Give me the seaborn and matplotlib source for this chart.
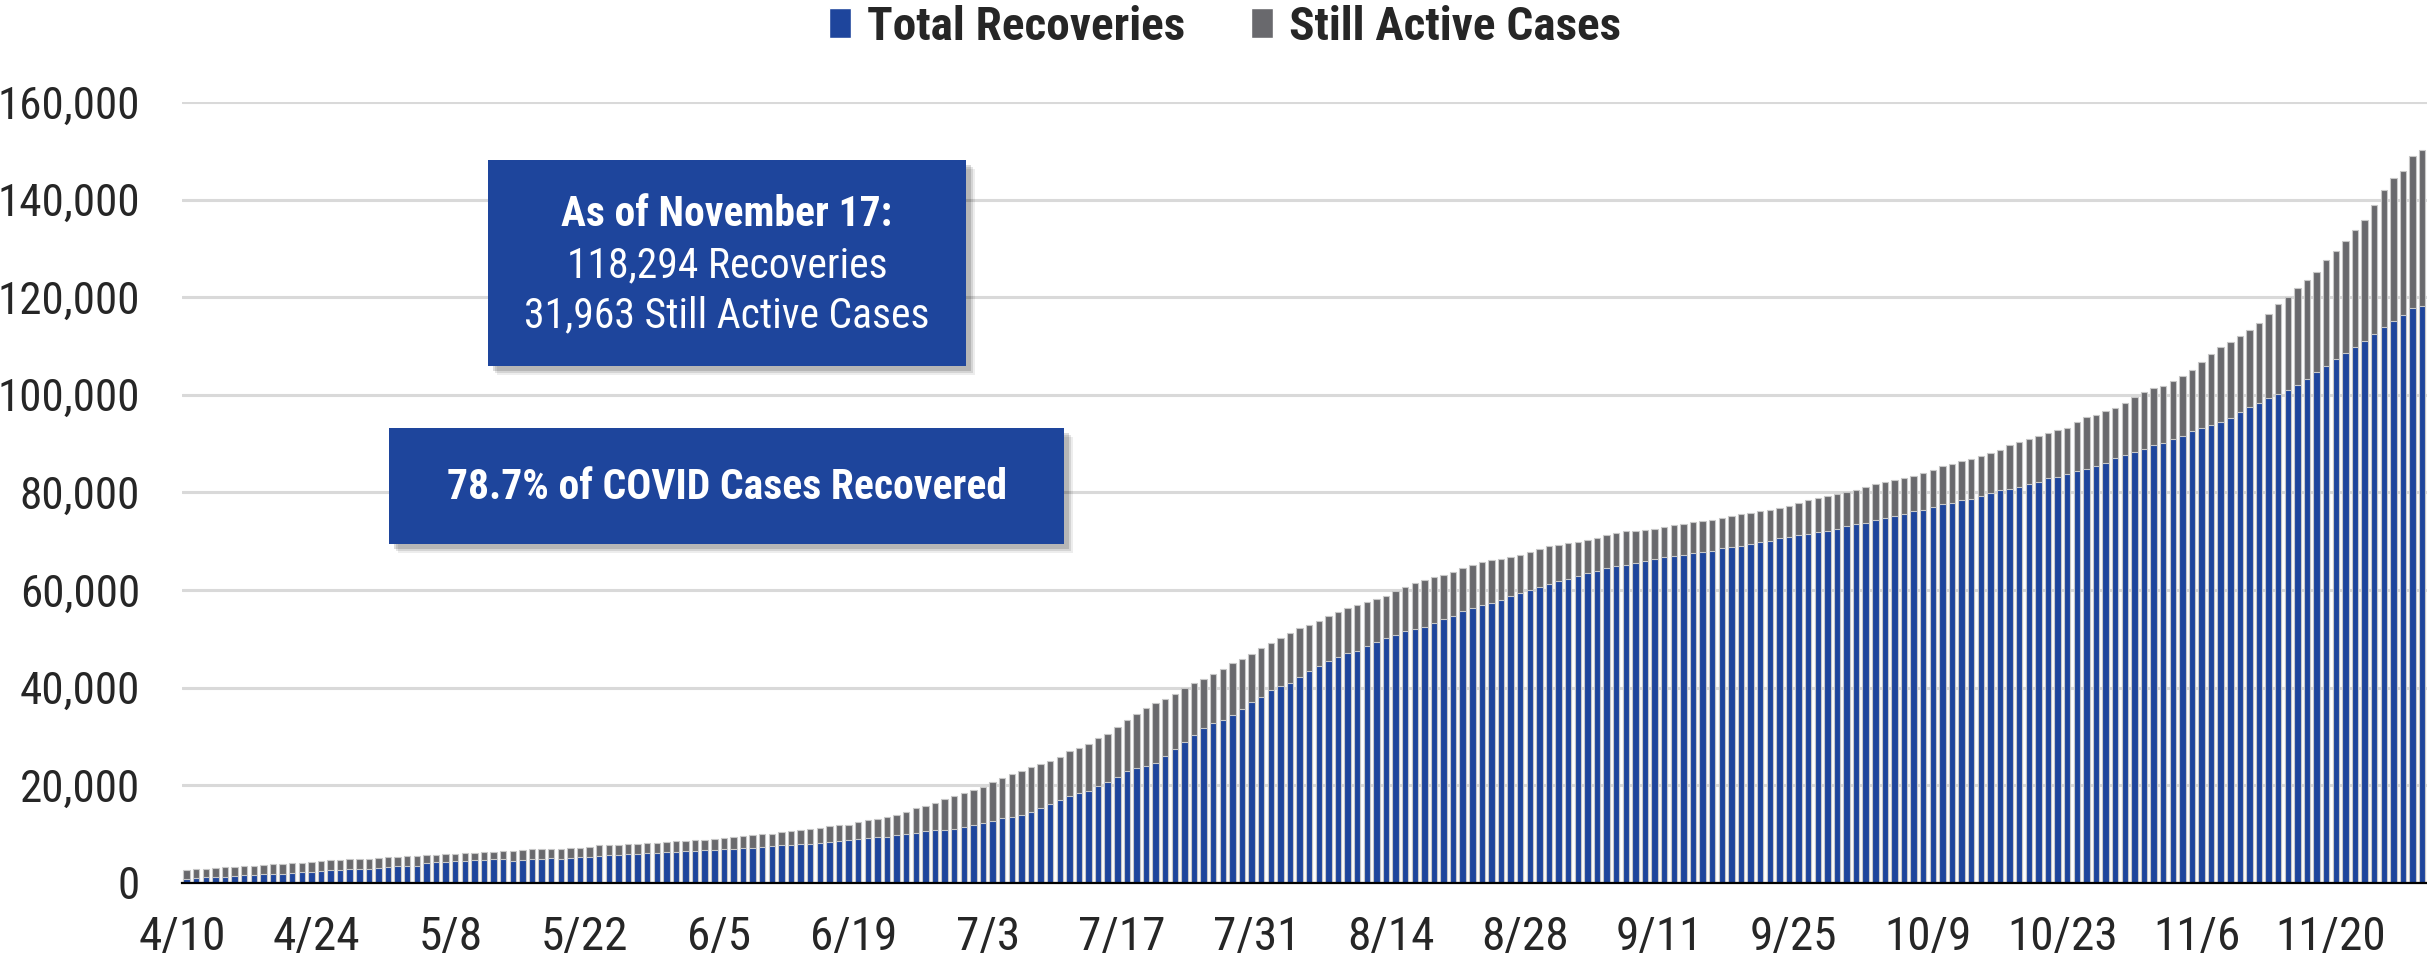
import matplotlib
matplotlib.use("Agg")
import matplotlib.pyplot as plt
from matplotlib import font_manager
from matplotlib.patches import Patch, Rectangle
from matplotlib.ticker import FuncFormatter
import pandas as pd
import seaborn as sns

# Daily values, 4/10 through 11/29
recoveries = [
    820, 1020, 1090, 1160, 1230, 1430, 1500, 1640, 1710, 1840,
    1840, 2050, 2250, 2250, 2390, 2520, 2660, 2730, 2800, 2860,
    3000, 3140, 3340, 3480, 3480, 4090, 4230, 4300, 4430, 4500,
    4570, 4710, 4840, 4910, 4500, 4710, 4770, 4840, 4980,
    4780, 4980, 5190, 5260, 5460, 5600, 5600, 5800, 5870, 6010,
    6080, 6210, 6280, 6420, 6490, 6620, 6690, 6830, 6890, 7030,
    7030, 7240, 7510, 7650, 7710, 7920, 7990, 8120, 8330, 8460,
    8670, 8870, 9080, 9280, 9420, 9690, 9970, 10170, 10510,
    10740, 10880, 10950, 11430, 11840, 12250, 12660, 13270, 13480, 13820,
    14510, 15330, 16150, 16970, 17790, 18410, 18820, 19840, 20660, 21690,
    22920, 23540, 23950, 24560, 26000, 27440, 28870, 30310, 31750, 32770,
    33320, 34280, 35650, 37080, 38110, 39480, 40370, 40980, 42220,
    43380, 44470, 45430, 46320, 47140, 47550, 48510, 49400, 50220, 50840,
    51660, 52070, 52480, 53230, 53980, 54740, 55760, 56380, 56860, 57340,
    58020, 58770, 59460, 60070, 60690, 61310, 61850, 62330, 62950, 63560,
    63970, 64520, 64930, 65210, 65550, 65960, 66370, 66710, 66980,
    67250, 67490, 67810, 68050, 68530, 68760, 69080, 69480, 69880, 70120,
    70600, 70920, 71310, 71550, 71870, 72190, 72590, 73070, 73470, 73780,
    74260, 74820, 75140, 75540, 76090, 76490, 76970, 77530, 77930, 78410,
    78720, 79360, 79840, 80400, 80800, 81190, 81750, 82230, 82950,
    83250, 83730, 84360, 84880, 85500, 86130, 86970, 87700, 88320, 88950,
    89680, 90200, 91040, 91660, 92600, 93230, 93860, 94480, 95320, 96570,
    97410, 98240, 99280, 100220, 101060, 102000, 103250, 104710, 105970, 107430,
    108680, 109830, 111080, 112540, 113900, 115050, 116300, 117760, 118294,
]

total_cases = [
    2660, 2800, 2860, 3000, 3140, 3210, 3340, 3480, 3620, 3750,
    3820, 3960, 4020, 4230, 4430, 4570, 4710, 4770, 4840, 4910,
    5050, 5180, 5320, 5460, 5460, 5590, 5730, 5800, 5930, 6000,
    6140, 6210, 6340, 6480, 6550, 6680, 6820, 6890, 6920,
    6960, 7030, 7170, 7370, 7650, 7710, 7780, 7850, 7990, 8060,
    8190, 8400, 8460, 8600, 8740, 8810, 9010, 9150, 9350, 9560,
    9690, 9900, 10030, 10310, 10580, 10790, 11060, 11200, 11540, 11740,
    11880, 12360, 12770, 13110, 13450, 13930, 14470, 15360, 15770,
    16280, 17110, 17860, 18470, 19020, 19640, 20660, 21550, 22370, 22920,
    23740, 24290, 24910, 25860, 26960, 27640, 28530, 29630, 30450, 31880,
    33250, 34480, 35780, 36740, 37560, 38660, 39960, 40920, 41800, 42830,
    43860, 44950, 45840, 46800, 48100, 49130, 50220, 51180, 52200,
    52820, 53570, 54600, 55420, 56240, 56990, 57540, 58090, 58710, 59800,
    60690, 61370, 61990, 62670, 63080, 63630, 64450, 65140, 65680, 66090,
    66440, 66710, 67260, 67870, 68420, 68970, 69240, 69650, 69930, 70270,
    70750, 71230, 71640, 72050, 72120, 72250, 72590, 72940, 73280,
    73550, 73860, 74100, 74260, 74660, 75140, 75540, 75780, 76090, 76330,
    76810, 77290, 77770, 78410, 78800, 79280, 79680, 80080, 80480, 81190,
    81750, 82150, 82550, 82950, 83350, 83900, 84620, 85420, 85900, 86370,
    86850, 87410, 88050, 88760, 89720, 90360, 90920, 91550, 92110,
    92750, 93230, 94480, 95530, 95940, 96670, 97300, 98350, 99600, 100540,
    101370, 101900, 102940, 103770, 105030, 106700, 108470, 109830, 110770, 112130,
    113270, 114630, 116510, 118700, 119960, 121940, 123610, 125280, 127680, 129460,
    131440, 133740, 135930, 138960, 141980, 144390, 145950, 148980, 150257,
]

tick_labels = ["4/10", "4/24", "5/8", "5/22", "6/5", "6/19", "7/3", "7/17", "7/31",
               "8/14", "8/28", "9/11", "9/25", "10/9", "10/23", "11/6", "11/20"]
y_ticks = [0, 20000, 40000, 60000, 80000, 100000, 120000, 140000, 160000]

dates = pd.date_range("2020-04-10", periods=len(total_cases), freq="D")
day_labels = [f"{d.month}/{d.day}" for d in dates]

BLUE = "#1E459C"
GRAY = "#69696D"
W, H = 2427, 961

sns.set_style("white")

# the original uses a condensed sans; take the first narrow face that exists
narrow = None
for name in ["Liberation Sans Narrow", "Roboto Condensed", "DejaVu Sans Condensed", "Open Sans Condensed"]:
    try:
        font_manager.findfont(name, fallback_to_default=False)
        narrow = name
        break
    except ValueError:
        pass
if narrow:
    plt.rcParams["font.family"] = [narrow, "Liberation Sans", "DejaVu Sans"]
    k = 1.0
else:
    plt.rcParams["font.family"] = ["Liberation Sans", "DejaVu Sans"]
    k = 0.84

df = pd.DataFrame({"day": day_labels, "total": total_cases, "recovered": recoveries})

fig = plt.figure(figsize=(W / 100, H / 100), dpi=100)
ax = fig.add_axes([0.0749, 0.0815, 0.9251, 0.8122])

# stacked look: full height in gray, recoveries drawn over it in blue
sns.barplot(data=df, x="day", y="total", color=GRAY, saturation=1, width=0.67,
            errorbar=None, edgecolor="#C8C8C8", linewidth=0.8, ax=ax, zorder=2)
sns.barplot(data=df, x="day", y="recovered", color=BLUE, saturation=1, width=0.67,
            errorbar=None, edgecolor="#C8C8C8", linewidth=0.8, ax=ax, zorder=3)

ax.set_xlim(-0.5, len(total_cases) - 0.5)
ax.set_ylim(0, 160000)
ax.set_yticks(y_ticks)
ax.yaxis.set_major_formatter(FuncFormatter(lambda v, p: f"{v:,.0f}"))
ax.set_xticks([i * 14 - 0.5 for i in range(len(tick_labels))])
ax.set_xticklabels(tick_labels)
ax.set_xlabel("")
ax.set_ylabel("")

ax.tick_params(axis="y", length=0, pad=30, labelsize=32.5 * k)
ax.tick_params(axis="x", length=10, width=1.6, color="black", pad=13, labelsize=34 * k, direction="out")
ax.yaxis.grid(True, color="#D9D9D9", linewidth=2.2)
ax.set_axisbelow(True)
for side in ["left", "top", "right"]:
    ax.spines[side].set_visible(False)
ax.spines["bottom"].set_color("black")
ax.spines["bottom"].set_linewidth(1.6)
ax.spines["bottom"].set_zorder(4)


def info_box(x0, y0, x1, y1):
    # pixel box (top-left origin) with a soft drop shadow
    for off, a in [(9, 0.07), (7, 0.10), (5, 0.14)]:
        fig.add_artist(Rectangle(((x0 + off) / W, 1 - (y1 + off) / H), (x1 - x0) / W, (y1 - y0) / H,
                                 transform=fig.transFigure, color="black", alpha=a, lw=0, zorder=5))
    fig.add_artist(Rectangle((x0 / W, 1 - y1 / H), (x1 - x0) / W, (y1 - y0) / H,
                             transform=fig.transFigure, color=BLUE, lw=0, zorder=6))


info_box(488, 160, 966, 366)
info_box(389, 428, 1064, 544)

cx = 727 / W
fig.text(cx, 1 - 214 / H, "As of November 17:", color="white", fontsize=30 * k, fontweight="bold",
         ha="center", va="center", zorder=7)
fig.text(cx, 1 - 266 / H, "118,294 Recoveries", color="white", fontsize=30 * k,
         ha="center", va="center", zorder=7)
fig.text(cx, 1 - 316 / H, "31,963 Still Active Cases", color="white", fontsize=30 * k,
         ha="center", va="center", zorder=7)
fig.text(cx, 1 - 488 / H, "78.7% of COVID Cases Recovered", color="white", fontsize=30 * k,
         fontweight="bold", ha="center", va="center", zorder=7)

handles = [Patch(facecolor=BLUE, label="Total Recoveries"),
           Patch(facecolor=GRAY, label="Still Active Cases")]
fig.legend(handles=handles, loc="center", bbox_to_anchor=(0.5048, 0.972), ncol=2, frameon=False,
           prop={"size": 34 * k, "weight": "bold"}, handlelength=0.45 / k, handleheight=0.6 / k,
           handletextpad=0.35, columnspacing=1.4, borderaxespad=0)

fig.savefig("out.png", dpi=100)
